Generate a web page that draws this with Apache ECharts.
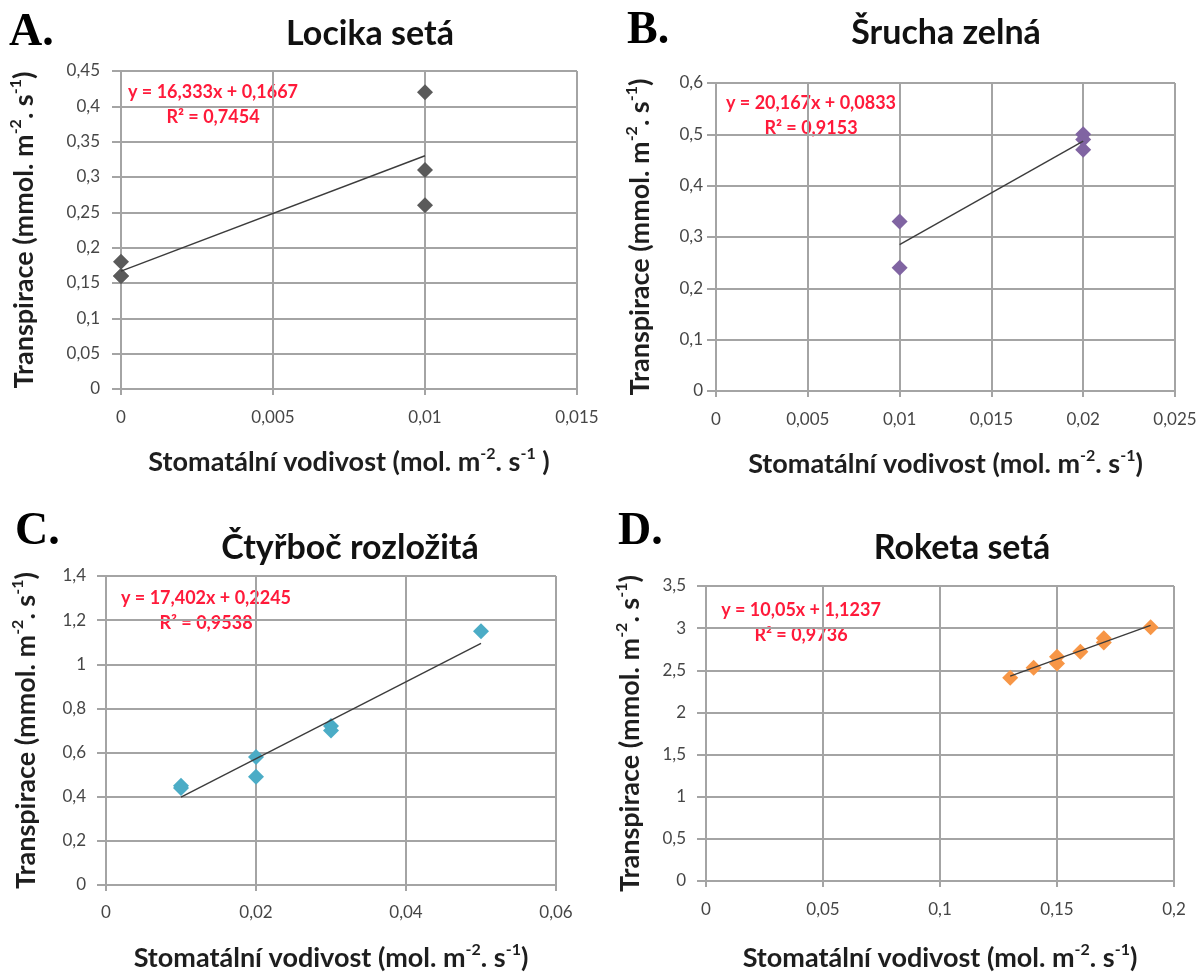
<!DOCTYPE html>
<html>
<head>
<meta charset="utf-8">
<script src="https://cdn.jsdelivr.net/npm/echarts@6/dist/echarts.min.js"></script>
<style>
html,body{margin:0;padding:0;background:#fff;}
#c{width:1201px;height:975px;}
</style>
</head>
<body>
<div id="c"></div>
<script>
// ---- data ----
const aX = [0, 0, 0, 0.01, 0.01, 0.01];
const aY = [0.18, 0.16, 0.16, 0.42, 0.31, 0.26];
const bX = [0.01, 0.01, 0.02, 0.02, 0.02];
const bY = [0.33, 0.24, 0.50, 0.49, 0.47];
const cX = [0.01, 0.01, 0.02, 0.02, 0.03, 0.03, 0.05];
const cY = [0.45, 0.44, 0.58, 0.49, 0.72, 0.70, 1.15];
const dX = [0.13, 0.14, 0.15, 0.15, 0.16, 0.17, 0.17, 0.19];
const dY = [2.41, 2.53, 2.66, 2.58, 2.72, 2.88, 2.83, 3.01];
const titles = ['Locika setá', 'Šrucha zelná', 'Čtyřboč rozložitá', 'Roketa setá'];
const letters = ['A.', 'B.', 'C.', 'D.'];
const slopes = [16.333, 20.167, 17.402, 10.05];
const intercepts = [0.1667, 0.0833, 0.2245, 1.1237];
const r2Values = [0.7454, 0.9153, 0.9538, 0.9736];
const xMaxes = [0.015, 0.025, 0.06, 0.2];
const xSteps = [0.005, 0.005, 0.02, 0.05];
const yMaxes = [0.45, 0.6, 1.4, 3.5];
const ySteps = [0.05, 0.1, 0.2, 0.5];
const xNames = [
  '{n|Stomatální vodivost (mol. m}{s|-2}{n|. s}{s|-1}{n| )}',
  '{n|Stomatální vodivost (mol. m}{s|-2}{n|. s}{s|-1}{n|)}',
  '{n|Stomatální vodivost (mol. m}{s|-2}{n|. s}{s|-1}{n|)}',
  '{n|Stomatální vodivost (mol. m}{s|-2}{n|. s}{s|-1}{n|)}'
];
const yNameText = '{n|Transpirace (mmol. m}{s|-2}{n|. s}{s|-1}{n|)}';

// ---- styling / layout ----
const seriesX = [aX, bX, cX, dX];
const seriesY = [aY, bY, cY, dY];
const colors = ['#5a5a5a', '#8064a2', '#4bacc6', '#f79646'];
const panels = [
  {left:121, top:71, width:456, height:318, title:[370,34], letter:[9,33], eq:[213,92], yGap:81, yMargin:21, xGap:57, xMargin:20},
  {left:716, top:83, width:459, height:308, title:[946,33], letter:[627,31], eq:[811,103], yGap:60, yMargin:13, xGap:57, xMargin:20},
  {left:106, top:576, width:450, height:315, title:[350,548], letter:[15,532], eq:[206,598], yGap:64, yMargin:20, xGap:57, xMargin:19},
  {left:706, top:586, width:468, height:301, title:[962,548], letter:[618,532], eq:[801,610], yGap:60, yMargin:20, xGap:61, xMargin:20}
];
const FONT = 'Lato, "Open Sans", sans-serif';
const gridColor = '#a4a4a4';
const fmt = v => String(+(+v).toFixed(6)).replace('.', ',');

const nameStyle = {
  fontFamily: FONT, fontWeight: 'bold', fontSize: 27, color: '#1e1e1e', lineHeight: 32,
  rich: {
    n: {fontFamily: FONT, fontWeight: 'bold', fontSize: 27, color: '#1e1e1e', lineHeight: 32},
    s: {fontFamily: FONT, fontWeight: 'bold', fontSize: 16, color: '#1e1e1e', lineHeight: 32, verticalAlign: 'top'}
  }
};

const grids = [], xAxes = [], yAxes = [], series = [], graphics = [];
panels.forEach((p, i) => {
  grids.push({left: p.left, top: p.top, width: p.width, height: p.height});
  xAxes.push({
    type: 'value', gridIndex: i, min: 0, max: xMaxes[i], interval: xSteps[i],
    name: xNames[i], nameLocation: 'middle', nameGap: p.xGap, nameTextStyle: nameStyle,
    axisLine: {show: true, lineStyle: {color: gridColor, width: 2}},
    axisTick: {show: true, length: 6, lineStyle: {color: gridColor, width: 2}},
    splitLine: {show: true, lineStyle: {color: gridColor, width: 2}},
    axisLabel: {formatter: fmt, margin: p.xMargin, fontFamily: FONT, fontSize: 17, color: '#464646'}
  });
  yAxes.push({
    type: 'value', gridIndex: i, min: 0, max: yMaxes[i], interval: ySteps[i],
    name: yNameText, nameLocation: 'middle', nameGap: p.yGap, nameTextStyle: nameStyle,
    axisLine: {show: true, lineStyle: {color: gridColor, width: 2}},
    axisTick: {show: true, length: 9, lineStyle: {color: gridColor, width: 2}},
    splitLine: {show: true, lineStyle: {color: gridColor, width: 2}},
    axisLabel: {formatter: fmt, margin: p.yMargin, fontFamily: FONT, fontSize: 17, color: '#464646'}
  });
  const xs = seriesX[i], ys = seriesY[i];
  series.push({
    type: 'scatter', xAxisIndex: i, yAxisIndex: i, symbol: 'diamond', symbolSize: 16,
    itemStyle: {color: colors[i], opacity: 1},
    data: xs.map((x, k) => [x, ys[k]]), z: 2
  });
  const x0 = Math.min(...xs), x1 = Math.max(...xs);
  series.push({
    type: 'line', xAxisIndex: i, yAxisIndex: i, showSymbol: false, symbol: 'none',
    lineStyle: {color: '#3c3c3c', width: 1.4}, z: 3, silent: true,
    data: [[x0, slopes[i] * x0 + intercepts[i]], [x1, slopes[i] * x1 + intercepts[i]]]
  });
  graphics.push({
    type: 'text', x: p.letter[0], y: p.letter[1],
    style: {text: letters[i], font: 'bold 46px "Liberation Serif", "DejaVu Serif", serif', fill: '#000', textVerticalAlign: 'middle', textAlign: 'left'}
  });
  graphics.push({
    type: 'text', x: p.title[0], y: p.title[1],
    style: {text: titles[i], font: 'bold 34px ' + FONT, fill: '#111', textAlign: 'center', textVerticalAlign: 'middle'}
  });
  graphics.push({
    type: 'text', x: p.eq[0], y: p.eq[1],
    style: {text: 'y = ' + fmt(slopes[i]) + 'x + ' + fmt(intercepts[i]), font: 'bold 18px ' + FONT, fill: '#ff1a3a', textAlign: 'center', textVerticalAlign: 'middle'}
  });
  graphics.push({
    type: 'text', x: p.eq[0], y: p.eq[1] + 25,
    style: {text: 'R² = ' + fmt(r2Values[i]), font: 'bold 18px ' + FONT, fill: '#ff1a3a', textAlign: 'center', textVerticalAlign: 'middle'}
  });
});

const chart = echarts.init(document.getElementById('c'), null, {renderer: 'canvas'});
chart.setOption({
  backgroundColor: '#ffffff',
  animation: false,
  grid: grids,
  xAxis: xAxes,
  yAxis: yAxes,
  series: series,
  graphic: graphics
});
</script>
</body>
</html>
